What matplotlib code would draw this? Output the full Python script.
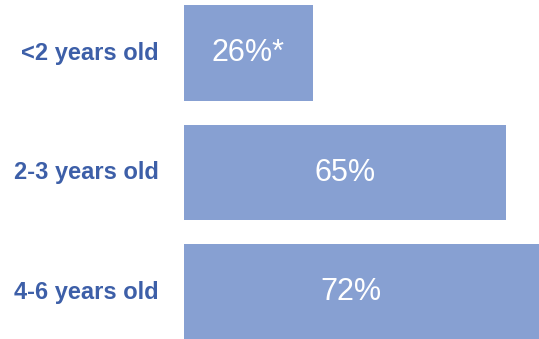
import matplotlib
matplotlib.use("Agg")
import matplotlib.pyplot as plt

# Data
CATEGORIES = ["<2 years old", "2-3 years old", "4-6 years old"]
VALUES     = [26, 65, 72]
VALUE_LABELS = ["26%*", "65%", "72%"]

BAR_COLOR   = "#87a0d2"
LABEL_COLOR = "#3d5fa8"

plt.rcParams["font.family"] = ["Liberation Sans", "DejaVu Sans"]

fig = plt.figure(figsize=(5.39, 3.39), dpi=100, facecolor="white")
ax = fig.add_axes([184 / 539, 0, 1 - 184 / 539, 1])

ypos = list(range(len(CATEGORIES)))
bars = ax.barh(ypos, VALUES, height=0.80, color=BAR_COLOR, edgecolor="none")

ax.set_xlim(0, 71.7)
ax.set_ylim(2.393, -0.4435)
ax.axis("off")

for y, v, lab in zip(ypos, VALUES, VALUE_LABELS):
    # last bar runs off the right edge; its label sits a little left of centre
    x = v / 2 if v < 70 else v / 2 - 2.3
    ax.text(x, y, lab, ha="center", va="center", color="white",
            fontsize=22)

# category labels, right-aligned left of the bars
for y, cat in zip(ypos, CATEGORIES):
    ax.annotate(cat, xy=(0, y), xycoords=("axes fraction", "data"),
                xytext=(-25, 0), textcoords="offset pixels",
                ha="right", va="center", color=LABEL_COLOR,
                fontsize=17, fontweight="bold", annotation_clip=False)

fig.savefig("out.png", dpi=100, facecolor="white")
